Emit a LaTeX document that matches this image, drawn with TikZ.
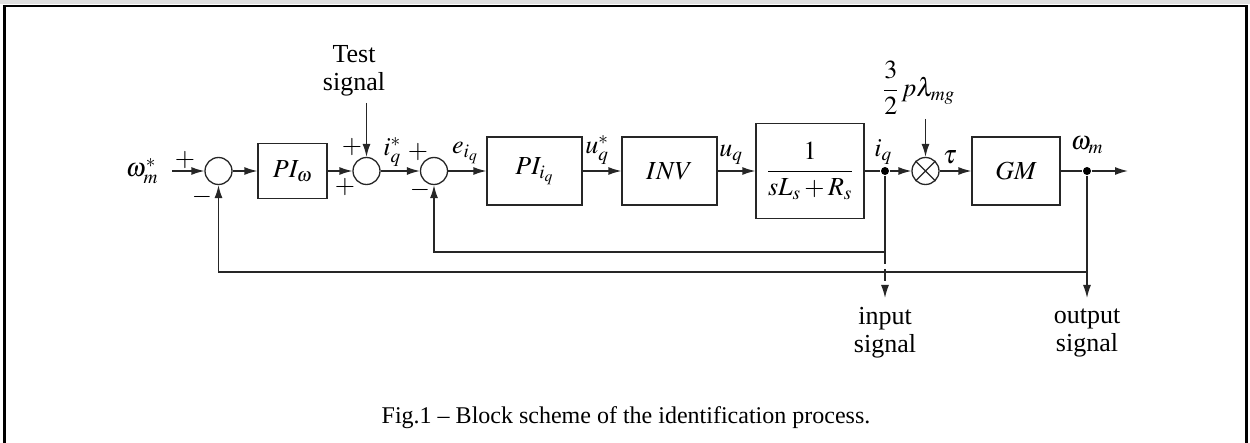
\documentclass[tikz,border=0pt]{standalone}
\usepackage{mathptmx}
\usepackage{fontspec}
\setmainfont{Liberation Serif}
\usetikzlibrary{arrows.meta}

\begin{document}
\begin{tikzpicture}[x=1pt,y=-1pt,
  font=\fontsize{26}{28}\selectfont,
  line width=1.3pt, draw=black!85,
  >={Latex[length=13pt,width=8pt]},
  sumnode/.style={draw, circle, minimum size=27pt, inner sep=0pt},
  jn/.style={circle, fill=black, minimum size=8pt, inner sep=0pt},
  lbl/.style={inner sep=0pt}]
%
% macro: block name, x position, width, height, label
\newcommand{\blk}[5]{
  \node[draw, minimum width=#3pt, minimum height=#4pt, inner sep=0pt] (#1) at (#2,171) {#5};
}
%
\useasboundingbox (0,0) rectangle (1250,443);
\fill[black!12] (0,0) rectangle (1250,4);
\draw[line width=2.3pt, black] (4.5,450) -- (4.5,6) -- (1246.5,6) -- (1246.5,450);
%
\blk{piw}{292.5}{69}{55}{$PI_\omega$}
\blk{piq}{534.5}{95}{68}{$PI_{i_q}$}
\blk{inv}{669.5}{95}{68}{$INV$}
\blk{plant}{810}{108}{95}{$\displaystyle\frac{1}{sL_s+R_s}$}
\blk{gm}{1016}{88}{68}{$GM$}
%
\node[sumnode] (s1) at (218.5,171) {};
\node[sumnode] (s2) at (366.5,171) {};
\node[sumnode] (s3) at (434,171) {};
\node[sumnode] (mul) at (925.5,171) {};
\draw (mul.north west) -- (mul.south east) (mul.north east) -- (mul.south west);
\node[jn] (jiq) at (885,171) {};
\node[jn] (jw) at (1087,171) {};
%
\coordinate (win) at (172,171);
\coordinate (tin) at (366.5,103);
\coordinate (kin) at (925.5,119);
\coordinate (wout) at (1128,171);
\coordinate (fb1) at (885,252);
\coordinate (fb2) at (1087,272);
\coordinate (yin) at (885,298);
\coordinate (yout) at (1087,298);
%
\draw[->] (win) -- (s1);
\draw[->] (s1) -- (piw);
\draw[->] (piw) -- (s2);
\draw[->] (tin) -- (s2);
\draw[->] (s2) -- (s3);
\draw[->] (s3) -- (piq);
\draw[->] (piq) -- (inv);
\draw[->] (inv) -- (plant);
\draw (plant) -- (jiq);
\draw[->] (jiq) -- (mul);
\draw[->] (kin) -- (mul);
\draw[->] (mul) -- (gm);
\draw (gm) -- (jw);
\draw[->] (jw) -- (wout);
\draw[->] (jiq) -- (fb1) -| (s3);
\draw[->] (jw) -- (fb2) -| (s1);
\draw[->, dash pattern=on 12pt off 5pt] (fb1) -- (yin);
\draw[->] (fb2) -- (yout);
%
\node[lbl] (wref) at (142,171) {$\omega_m^*$};
\node[lbl] (p1) at (185,160) {$+$};
\node[lbl] (m1) at (202,197) {$-$};
\node[lbl] (p2) at (352,147) {$+$};
\node[lbl] (p2b) at (345,187) {$+$};
\node[lbl] (p3) at (418,152) {$+$};
\node[lbl] (m3) at (420,190) {$-$};
\node[lbl] (liqs) at (392,152) {$i_q^*$};
\node[lbl] (leiq) at (465,153) {$e_{i_q}$};
\node[lbl] (luqs) at (597,150) {$u_q^*$};
\node[lbl] (luq) at (731,155) {$u_q$};
\node[lbl] (liq) at (883,152) {$i_q$};
\node[lbl] (ltau) at (950,157) {$\tau$};
\node[lbl] (lwm) at (1087,145) {$\omega_m$};
\node[lbl] (kt) at (919,88) {$\displaystyle\frac{3}{2}\,p\lambda_{mg}$};
%
\node[lbl, align=center] (tsig) at (354,71) {Test\\signal};
\node[lbl, align=center] (insig) at (885,333) {input\\signal};
\node[lbl, align=center] (outsig) at (1087,333) {output\\signal};
\node[lbl, font=\fontsize{24}{28}\selectfont] (cap) at (626,418) {Fig.1 – Block scheme of the identification process.};
\end{tikzpicture}
\end{document}
